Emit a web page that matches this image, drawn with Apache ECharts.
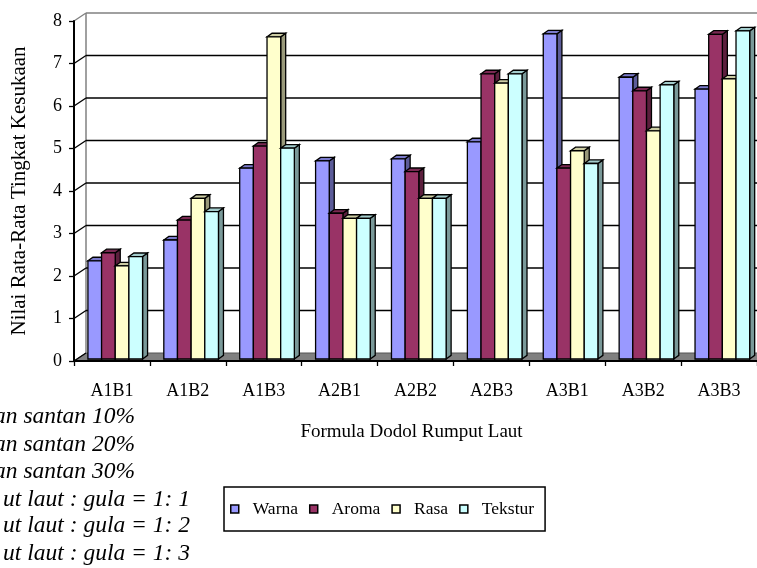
<!DOCTYPE html>
<html>
<head>
<meta charset="utf-8">
<title>Formula Dodol Rumput Laut</title>
<script src="https://cdn.jsdelivr.net/npm/echarts@6/dist/echarts.min.js"></script>
<style>
  html, body { margin: 0; padding: 0; background: #fff; }
  #chart { width: 757px; height: 568px; }
</style>
</head>
<body>
<div id="chart"></div>
<script>
// Mean preference scores per formula
const categories = ['A1B1', 'A1B2', 'A1B3', 'A2B1', 'A2B2', 'A2B3', 'A3B1', 'A3B2', 'A3B3'];
const warna   = [2.31, 2.80, 4.49, 4.66, 4.71, 5.11, 7.65, 6.63, 6.35];
const aroma   = [2.50, 3.27, 5.01, 3.43, 4.41, 6.71, 4.49, 6.31, 7.64];
const rasa    = [2.19, 3.78, 7.58, 3.31, 3.78, 6.49, 4.90, 5.37, 6.59];
const tekstur = [2.41, 3.47, 4.96, 3.31, 3.78, 6.71, 4.60, 6.45, 7.72];
const seriesNames = ['Warna', 'Aroma', 'Rasa', 'Tekstur'];
const yTicks = [0, 1, 2, 3, 4, 5, 6, 7, 8];

// Notes printed at the lower left
const notesLeft = ['an santan 10%', 'an santan 20%', 'an santan 30%'];
const notesRight = ['ut laut : gula = 1: 1', 'ut laut : gula = 1: 2', 'ut laut : gula = 1: 3'];

const SERIF = "'Liberation Serif', 'Times New Roman', serif";

// Pseudo-3D geometry
const WALL_DX = 12, WALL_DY = -8;    // back wall offset
const BAR_DX = 3.3, BAR_DY = -2;     // bar front plane offset
const DEPTH_X = 5, DEPTH_Y = -3.6;   // bar depth
const BAR_RATIO = 0.18;              // each bar's share of the band

const palette = [
  { front: '#9999FF', side: '#5C5C99', cap: '#7A7ACC' },
  { front: '#993366', side: '#5C1F3D', cap: '#7A2952' },
  { front: '#FFFFCC', side: '#99997A', cap: '#CCCCA3' },
  { front: '#CCFFFF', side: '#7A9999', cap: '#A3CCCC' }
];

function wallRenderer(params, api) {
  const v = api.value(1);
  const cs = params.coordSys;
  const x0 = cs.x, W = cs.width;
  const y = api.coord([0, v])[1];
  const isTop = v === yTicks[yTicks.length - 1];
  const lineColor = isTop ? '#808080' : '#000';
  const children = [];
  if (v === 0) {
    const yTop = api.coord([0, yTicks[yTicks.length - 1]])[1];
    children.push({
      type: 'polygon',
      shape: { points: [[x0, y], [x0 + W, y], [x0 + W + WALL_DX, y + WALL_DY], [x0 + WALL_DX, y + WALL_DY]] },
      style: { fill: '#808080', stroke: '#555', lineWidth: 1 }
    });
    children.push({
      type: 'line',
      shape: { x1: x0 + WALL_DX, y1: y + WALL_DY, x2: x0 + WALL_DX, y2: yTop + WALL_DY },
      style: { stroke: '#808080', lineWidth: 1.5 }
    });
  }
  children.push({
    type: 'line',
    shape: { x1: x0, y1: y, x2: x0 + WALL_DX, y2: y + WALL_DY },
    style: { stroke: lineColor, lineWidth: 1.3 }
  });
  if (v !== 0) {
    children.push({
      type: 'line',
      shape: { x1: x0 + WALL_DX, y1: y + WALL_DY, x2: x0 + W + WALL_DX, y2: y + WALL_DY },
      style: { stroke: lineColor, lineWidth: isTop ? 1.5 : 1.3 }
    });
  }
  return { type: 'group', children: children };
}

function barRenderer(idx) {
  const c = palette[idx];
  return function (params, api) {
    const i = api.value(0), v = api.value(1);
    const base = api.coord([i, 0]);
    const top = api.coord([i, v]);
    const band = api.size([1, 0])[0];
    const w = band * BAR_RATIO;
    const x = base[0] - 2 * w + idx * w + BAR_DX;
    const yb = base[1] + BAR_DY;
    const yt = top[1] + BAR_DY;
    const stroke = { stroke: '#000', lineWidth: 1.3, lineJoin: 'miter' };
    return {
      type: 'group',
      children: [
        {
          type: 'polygon',
          shape: { points: [[x + w, yt], [x + w + DEPTH_X, yt + DEPTH_Y], [x + w + DEPTH_X, yb + DEPTH_Y], [x + w, yb]] },
          style: Object.assign({ fill: c.side }, stroke)
        },
        {
          type: 'polygon',
          shape: { points: [[x, yt], [x + w, yt], [x + w + DEPTH_X, yt + DEPTH_Y], [x + DEPTH_X, yt + DEPTH_Y]] },
          style: Object.assign({ fill: c.cap }, stroke)
        },
        {
          type: 'rect',
          shape: { x: x, y: yt, width: w, height: yb - yt },
          style: Object.assign({ fill: c.front }, stroke)
        }
      ]
    };
  };
}

const values = [warna, aroma, rasa, tekstur];
const barSeries = values.map(function (arr, idx) {
  return {
    name: seriesNames[idx],
    type: 'custom',
    z: 2,
    renderItem: barRenderer(idx),
    itemStyle: { color: palette[idx].front },
    encode: { x: 0, y: 1 },
    data: arr.map(function (v, i) { return [i, v]; })
  };
});

const noteGraphics = [];
const noteY = [418, 446, 473, 501, 527, 555];
notesLeft.forEach(function (t, k) {
  noteGraphics.push({ type: 'text', right: 757 - 135, top: noteY[k] - 13,
    style: { text: t, font: 'italic 23.5px ' + SERIF, fill: '#000' } });
});
notesRight.forEach(function (t, k) {
  noteGraphics.push({ type: 'text', right: 757 - 190, top: noteY[k + 3] - 13,
    style: { text: t, font: 'italic 23.5px ' + SERIF, fill: '#000' } });
});

const chart = echarts.init(document.getElementById('chart'), null, { renderer: 'canvas' });
chart.setOption({
  animation: false,
  backgroundColor: '#fff',
  grid: { left: 74, top: 21, width: 686, height: 340 },
  legend: {
    data: seriesNames,
    left: 224,
    top: 487,
    orient: 'horizontal',
    icon: 'rect',
    itemWidth: 8,
    itemHeight: 8,
    itemGap: 11,
    borderColor: '#000',
    borderWidth: 1.5,
    padding: [13, 11, 13, 6],
    itemStyle: { borderColor: '#000', borderWidth: 1.5 },
    textStyle: { fontFamily: SERIF, fontSize: 17.5, color: '#000', padding: [0, 0, 0, 9] }
  },
  xAxis: {
    type: 'category',
    data: categories,
    z: 3,
    name: 'Formula Dodol Rumput Laut',
    nameLocation: 'middle',
    nameGap: 62,
    nameTextStyle: { fontFamily: SERIF, fontSize: 19, color: '#000', padding: [0, 8, 0, 0] },
    axisLine: { lineStyle: { color: '#000', width: 2 } },
    axisTick: { show: true, length: 5, lineStyle: { color: '#000', width: 1.3 } },
    axisLabel: { fontFamily: SERIF, fontSize: 18, color: '#000', margin: 21 },
    splitLine: { show: false }
  },
  yAxis: {
    type: 'value',
    min: 0,
    max: 8,
    interval: 1,
    z: 3,
    name: 'Nilai Rata-Rata Tingkat Kesukaan',
    nameLocation: 'middle',
    nameGap: 44,
    nameTextStyle: { fontFamily: SERIF, fontSize: 21, color: '#000' },
    axisLine: { show: true, lineStyle: { color: '#000', width: 2 } },
    axisTick: { show: true, length: 5, lineStyle: { color: '#000', width: 1.3 } },
    axisLabel: { fontFamily: SERIF, fontSize: 18, color: '#000', margin: 12 },
    splitLine: { show: false }
  },
  graphic: noteGraphics,
  series: [
    {
      name: 'wall',
      type: 'custom',
      z: 1,
      silent: true,
      renderItem: wallRenderer,
      encode: { x: 0, y: 1 },
      data: yTicks.map(function (v) { return [0, v]; })
    }
  ].concat(barSeries)
});
</script>
</body>
</html>
